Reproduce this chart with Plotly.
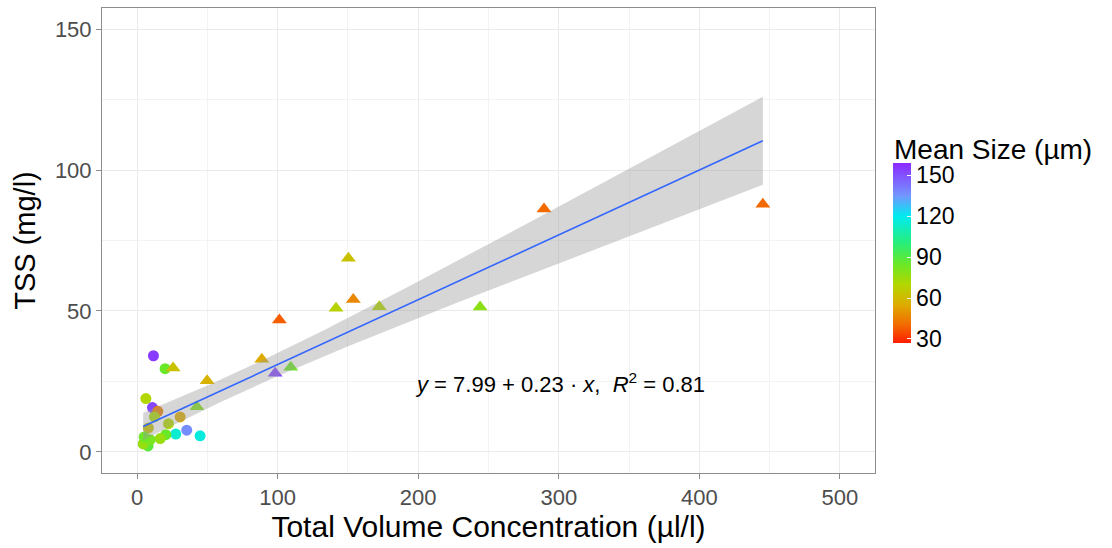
import numpy as np
import plotly.graph_objects as go

# Round markers: volume concentration (µl/l), TSS (mg/l), mean particle size (µm)
circle_x = [11.6, 19.9, 6.2, 10.9, 14.7, 12.3, 22.3, 30.6, 8.0, 27.5,
            35.3, 44.8, 20.4, 16.4, 6.9, 7.8, 4.3, 9.2, 5.0]
circle_y = [34.1, 29.5, 18.9, 15.7, 14.4, 12.4, 10.0, 12.4, 8.5, 6.3,
            7.7, 5.7, 6.1, 4.7, 3.5, 2.1, 2.8, 4.3, 5.3]
circle_size = [155, 85, 70, 152, 45, 72, 70, 55, 63, 115,
               137, 117, 85, 75, 86, 88, 76, 82, 84]

# Triangle markers
tri_x = [289.5, 445.2, 150.3, 153.8, 141.5, 172.3, 244.0, 101.2, 88.7,
         49.8, 98.2, 109.3, 25.6, 42.5]
tri_y = [86.2, 87.9, 68.7, 54.1, 51.0, 51.5, 51.4, 46.8, 32.9,
         25.2, 27.9, 30.0, 29.8, 16.0]
tri_size = [40, 40, 62, 47, 68, 70, 78, 38, 55, 57, 152, 84, 62, 80]

# Regression reported in the annotation
intercept = 7.99
slope = 0.23
r_squared = 0.81

x_ticks = [0, 100, 200, 300, 400, 500]
y_ticks = [0, 50, 100, 150]
size_ticks = [30, 60, 90, 120, 150]

FONT = "Liberation Sans, Arial, sans-serif"
cmin, cmax = 27, 159

def frac(v):
    return (v - cmin) / (cmax - cmin)

rainbow = [
    [0.0, "rgb(255,30,0)"],
    [frac(40), "rgb(242,105,0)"],
    [frac(55), "rgb(222,172,0)"],
    [frac(70), "rgb(178,215,0)"],
    [frac(85), "rgb(105,232,40)"],
    [frac(100), "rgb(40,238,120)"],
    [frac(120), "rgb(0,235,240)"],
    [frac(135), "rgb(115,150,255)"],
    [1.0, "rgb(140,40,255)"],
]

# Confidence band around the reported line
all_x = np.array(circle_x + tri_x)
all_y = np.array(circle_y + tri_y)
n = len(all_x)
resid = all_y - (intercept + slope * all_x)
s = np.sqrt(np.sum(resid ** 2) / (n - 2))
xbar = all_x.mean()
sxx = np.sum((all_x - xbar) ** 2)
t_crit = 2.0395
xs = np.linspace(all_x.min(), all_x.max(), 120)
fit = intercept + slope * xs
half = t_crit * s * np.sqrt(1.0 / n + (xs - xbar) ** 2 / sxx)

fig = go.Figure()

common_marker = dict(
    colorscale=rainbow, cmin=cmin, cmax=cmax, line=dict(width=0), opacity=1,
)

fig.add_trace(go.Scatter(
    x=circle_x, y=circle_y, mode="markers", showlegend=False,
    marker=dict(symbol="circle", size=11, color=circle_size, **common_marker),
))
fig.add_trace(go.Scatter(
    x=tri_x, y=tri_y, mode="markers", showlegend=False,
    marker=dict(symbol="triangle-up", size=13, color=tri_size,
                showscale=True,
                colorbar=dict(
                    x=1.0233, xanchor="left", xpad=0,
                    y=0.473, yanchor="middle", ypad=0,
                    len=180, lenmode="pixels", thickness=18,
                    outlinewidth=0,
                    tickvals=size_ticks, ticks="inside", ticklen=4,
                    tickcolor="white",
                    tickfont=dict(family=FONT, size=23, color="black"),
                ),
                **common_marker),
))

fig.add_trace(go.Scatter(
    x=np.concatenate([xs, xs[::-1]]),
    y=np.concatenate([fit + half, (fit - half)[::-1]]),
    fill="toself", fillcolor="rgba(153,153,153,0.4)",
    line=dict(width=0), mode="lines", hoverinfo="skip", showlegend=False,
))
fig.add_trace(go.Scatter(
    x=xs, y=fit, mode="lines", line=dict(color="#3366FF", width=1.6),
    showlegend=False,
))

fig.add_annotation(
    x=301, y=24.5, xref="x", yref="y", showarrow=False,
    text=(f"<i>y</i> = {intercept:.2f} + {slope:.2f} · <i>x</i>,  "
          f"<i>R</i><sup>2</sup> = {r_squared:.2f}"),
    font=dict(family=FONT, size=22, color="black"),
)

# Colour bar heading
fig.add_annotation(
    x=1.0233, y=0.660, xref="paper", yref="paper",
    xanchor="left", yanchor="bottom", showarrow=False,
    text="Mean Size (µm)", borderpad=0,
    font=dict(family=FONT, size=28, color="black"),
)

axis_common = dict(
    showline=True, linecolor="#8c8c8c", linewidth=1, mirror=True,
    ticks="outside", ticklen=5, tickcolor="#8c8c8c",
    showgrid=True, gridcolor="#ebebeb", gridwidth=1,
    zeroline=False,
    tickfont=dict(family=FONT, size=22, color="#4d4d4d"),
)

fig.update_layout(
    width=1112, height=548,
    margin=dict(l=102, r=237, t=8, b=75),
    paper_bgcolor="white", plot_bgcolor="white",
    xaxis=dict(
        range=[-25, 525], tickvals=x_ticks,
        minor=dict(tickvals=[50, 150, 250, 350, 450], showgrid=True,
                   gridcolor="#f3f3f3", ticks=""),
        title=dict(text="Total Volume Concentration (µl/l)", standoff=6,
                   font=dict(family=FONT, size=30, color="black")),
        **axis_common,
    ),
    yaxis=dict(
        range=[-7.5, 157.5], tickvals=y_ticks,
        minor=dict(tickvals=[25, 75, 125], showgrid=True,
                   gridcolor="#f3f3f3", ticks=""),
        title=dict(text="TSS (mg/l)", standoff=10,
                   font=dict(family=FONT, size=29, color="black")),
        **axis_common,
    ),
)

fig.write_html("out.html")
